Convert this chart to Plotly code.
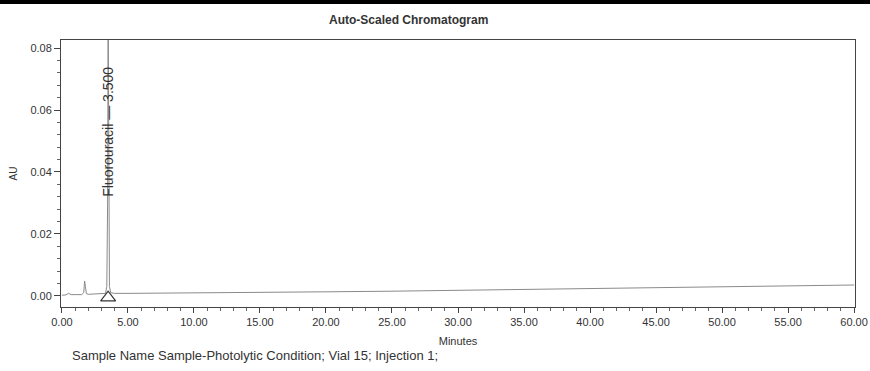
import plotly.graph_objects as go

# Chromatogram trace (minutes, AU)
time_min = [0.0, 0.3, 0.5, 0.7, 1.0, 1.5, 1.65, 1.72, 1.78, 1.85, 2.0, 2.8, 3.3, 3.4, 3.46, 3.5, 3.54, 3.6, 3.7, 4.0,
            5.0, 10.0, 15.0, 20.0, 25.0, 30.0, 35.0, 40.0, 45.0, 50.0, 55.0, 60.0]
absorbance = [0.0002, 0.0003, 0.0008, 0.0004, 0.0004, 0.0004, 0.0010, 0.0048, 0.0030, 0.0007, 0.0005, 0.0006, 0.0008, 0.0030, 0.0300, 0.0950, 0.0300, 0.0030, 0.0010, 0.0008,
              0.0008, 0.0009, 0.0011, 0.0013, 0.0015, 0.0018, 0.0020, 0.0022, 0.0025, 0.0028, 0.0031, 0.0035]

peak_name = "Fluorouracil"
peak_rt = 3.500
peak_label_y = 0.053
marker_y = -0.0006

x_ticks = [0, 5, 10, 15, 20, 25, 30, 35, 40, 45, 50, 55, 60]
y_ticks = [0.00, 0.02, 0.04, 0.06, 0.08]

title = "Auto-Scaled Chromatogram"
sample_text = "Sample Name Sample-Photolytic Condition; Vial 15; Injection 1;"

W, H = 870, 371
ML, MR, MT, MB = 61, 15, 40, 64
PW, PH = W - ML - MR, H - MT - MB


def px(x):
    return (x - ML) / PW


def py(y_from_top):
    return (H - y_from_top - MB) / PH


fig = go.Figure()
fig.add_trace(go.Scatter(x=time_min, y=absorbance, mode="lines",
                         line=dict(color="#8a8a8a", width=1), hoverinfo="skip"))
fig.add_trace(go.Scatter(x=[peak_rt], y=[marker_y], mode="markers",
                         marker=dict(symbol="triangle-up-open", size=13, color="#333333",
                                     line=dict(width=1.2, color="#333333")),
                         hoverinfo="skip"))

FONT = "Liberation Sans, Arial, sans-serif"
axis_font = dict(family=FONT, size=11, color="#333333")

fig.update_layout(
    width=W, height=H,
    margin=dict(l=ML, r=MR, t=MT, b=MB, autoexpand=False),
    paper_bgcolor="white", plot_bgcolor="white",
    showlegend=False,
    font=dict(family=FONT, color="#333333"),
    xaxis=dict(range=[-0.07, 60.07], tickvals=x_ticks, ticktext=[f"{v:.2f}" for v in x_ticks],
               ticks="outside", ticklen=5, tickcolor="#444", tickfont=axis_font,
               showline=True, linecolor="#444", linewidth=1, mirror=True,
               showgrid=False, zeroline=False, automargin=False,
               minor=dict(dtick=1, ticks="outside", ticklen=3, tickcolor="#666"),
               title=dict(text="Minutes", font=dict(family=FONT, size=11, color="#333333"), standoff=10)),
    yaxis=dict(range=[-0.0036, 0.0826], tickvals=y_ticks, ticktext=[f"{v:.2f}" for v in y_ticks],
               ticks="outside", ticklen=6, tickcolor="#444", tickfont=axis_font,
               showline=True, linecolor="#444", linewidth=1, mirror=True,
               showgrid=False, zeroline=False, automargin=False,
               minor=dict(dtick=0.004, ticks="outside", ticklen=3, tickcolor="#666"),
               title=dict(text="AU", font=dict(family=FONT, size=10, color="#333333"), standoff=10)),
)

fig.add_annotation(x=peak_rt, y=peak_label_y, xref="x", yref="y",
                   text=f"{peak_name} \u2014 {peak_rt:.3f}", textangle=-90, showarrow=False,
                   font=dict(family=FONT, size=14, color="#333333"))

fig.add_annotation(x=px(408), y=py(20), xref="paper", yref="paper", text=f"<b>{title}</b>",
                   showarrow=False, xanchor="center", yanchor="middle",
                   font=dict(family=FONT, size=12, color="#333333"))
fig.add_annotation(x=px(70), y=py(355), xref="paper", yref="paper", text=sample_text,
                   showarrow=False, xanchor="left", yanchor="middle",
                   font=dict(family=FONT, size=13, color="#333333"))

# black stripe at very top of page
fig.add_shape(type="rect", xref="paper", yref="paper",
              x0=px(0), x1=px(W), y0=py(4), y1=py(0),
              fillcolor="black", line=dict(width=0), layer="above")

fig.write_html("out.html", config={"displayModeBar": False},
               post_script="document.body.style.margin='0';document.body.style.padding='0';")
